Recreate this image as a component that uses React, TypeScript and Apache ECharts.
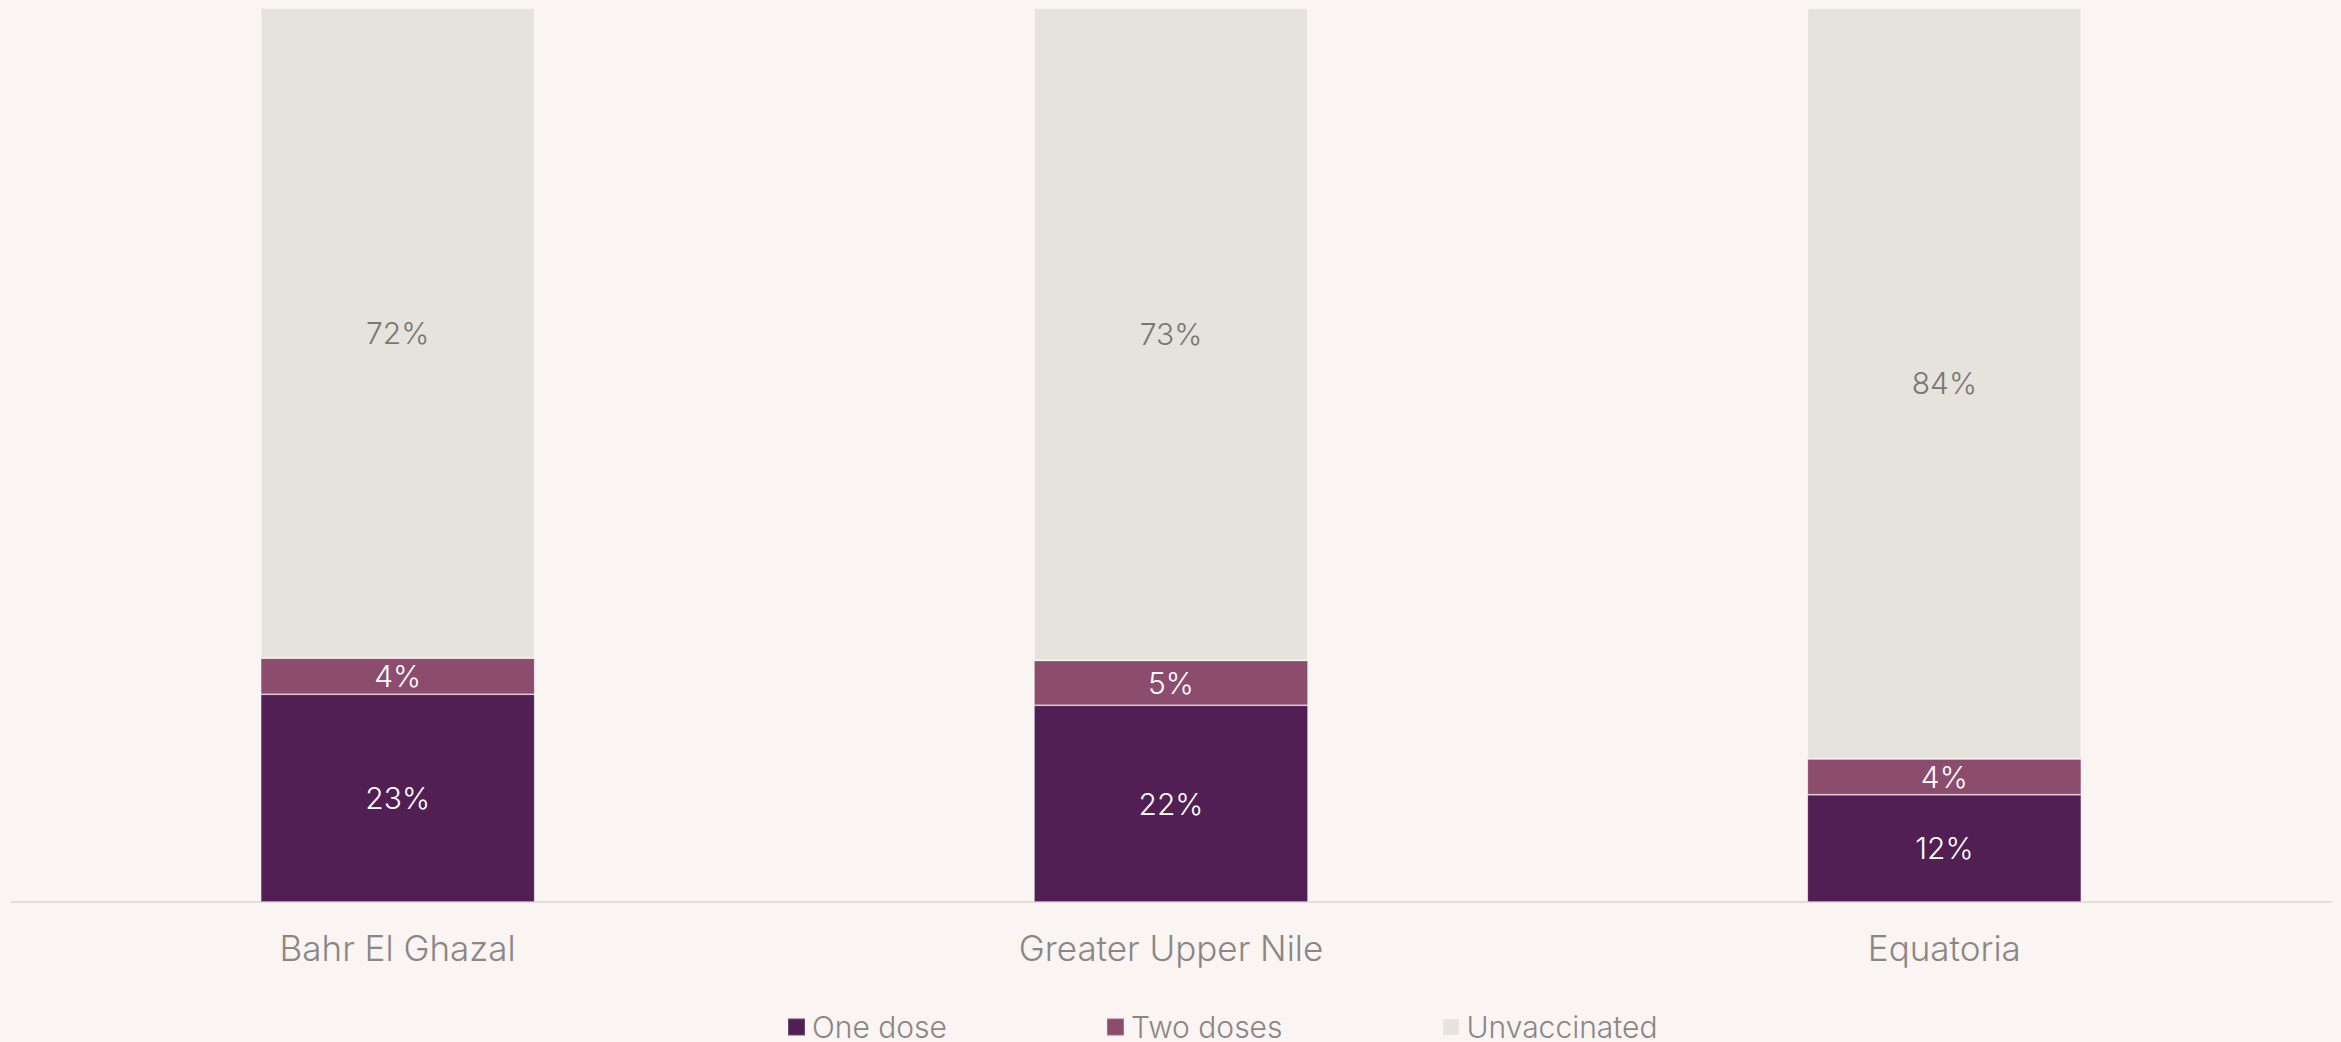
import React, { useEffect, useRef } from "react";
import * as echarts from "echarts";

const categories = ["Bahr El Ghazal", "Greater Upper Nile", "Equatoria"];
const oneDose = [23, 22, 12];
const twoDoses = [4, 5, 4];
const unvaccinated = [72, 73, 84];
const seriesNames = ["One dose", "Two doses", "Unvaccinated"];
const colors = ["#511F54", "#8C4C6E", "#E6E3DC"];

const FONT = "Inter";

export default function App() {
  const ref = useRef<HTMLDivElement>(null);
  useEffect(() => {
    document.body.style.margin = "0";
    const chart = echarts.init(ref.current!, null, { renderer: "svg" });
    const raw = [oneDose, twoDoses, unvaccinated];
    const totals = categories.map((_, i) => oneDose[i] + twoDoses[i] + unvaccinated[i]);
    const series = raw.map((arr, s) => ({
      name: seriesNames[s],
      type: "bar",
      stack: "total",
      barWidth: 274,
      data: arr.map((v, i) => (v / totals[i]) * 100),
      itemStyle: {
        color: colors[s],
        borderColor: s === 2 ? "rgba(255,255,255,0.4)" : "rgba(255,255,255,0.18)",
        borderWidth: 1,
      },
      label: {
        show: true,
        position: "inside",
        formatter: (p: any) => `${arr[p.dataIndex]}%`,
        color: s === 2 ? "#7A7676" : "#FFFFFF",
        fontFamily: FONT,
        fontWeight: 300,
        fontSize: 30,
      },
    }));
    chart.setOption({
      animation: false,
      backgroundColor: "#FAF5F2",
      color: colors,
      grid: { left: 11, right: 10, top: 8, bottom: 140, containLabel: false },
      xAxis: {
        type: "category",
        data: categories,
        axisLine: { show: true, lineStyle: { color: "#E2DEDD", width: 2 } },
        axisTick: { show: false },
        axisLabel: {
          color: "#8A8686",
          fontFamily: FONT,
          fontWeight: 300,
          fontSize: 35,
          margin: 28,
        },
      },
      yAxis: {
        type: "value",
        min: 0,
        max: 100,
        show: false,
        splitLine: { show: false },
      },
      legend: {
        data: seriesNames,
        left: 787,
        top: 1012,
        padding: 0,
        itemWidth: 17,
        itemHeight: 17,
        itemGap: 159,
        icon: "rect",
        textStyle: {
          color: "#8A8686",
          fontFamily: FONT,
          fontWeight: 300,
          fontSize: 30,
          padding: [0, 0, 0, 2],
        },
      },
      series,
    });
    return () => chart.dispose();
  }, []);
  return <div ref={ref} style={{ width: 2341, height: 1042 }} />;
}
